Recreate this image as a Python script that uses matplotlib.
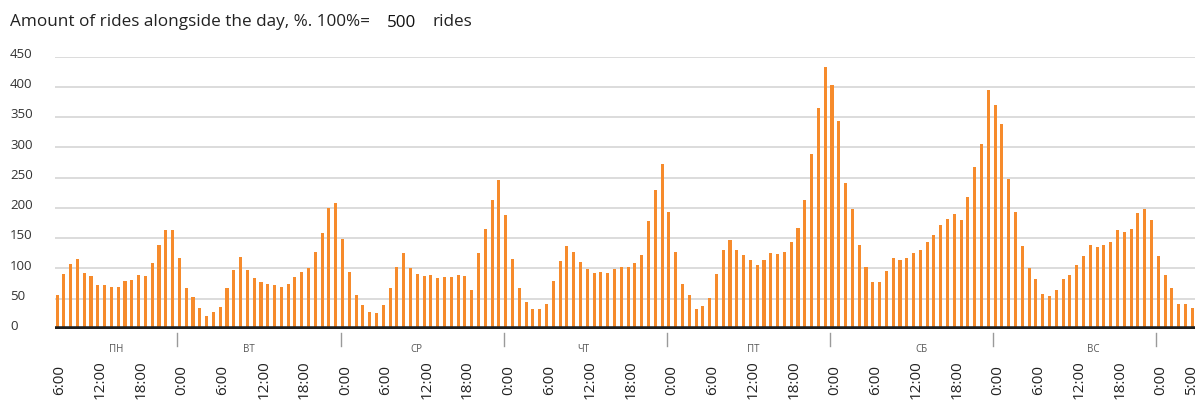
import matplotlib
matplotlib.use("Agg")
import matplotlib.pyplot as plt
from matplotlib.transforms import blended_transform_factory

# ---- data ----
title_text = "Amount of rides alongside the day, %. 100%="
base_value = "500"
unit_text = "rides"
day_labels = ["ПН", "ВТ", "СР", "ЧТ", "ПТ", "СБ", "ВС"]
start_hour = 6

mon = [56, 91, 107, 116, 93, 88, 72, 73, 70, 70, 79, 81, 89, 87, 109, 138, 164, 164]
tue = [117, 67, 53, 34, 21, 28, 37, 67, 98, 119, 98, 84, 77, 74, 73, 70, 75, 86, 95, 100, 127, 158, 200, 209]
wed = [149, 95, 57, 40, 28, 27, 40, 68, 102, 125, 101, 91, 87, 90, 84, 86, 86, 90, 88, 65, 125, 166, 214, 247]
thu = [188, 116, 68, 44, 33, 33, 41, 79, 112, 137, 128, 110, 99, 92, 94, 92, 99, 103, 103, 109, 122, 179, 229, 273]
fri = [194, 127, 74, 56, 33, 38, 52, 91, 131, 147, 131, 122, 114, 106, 114, 126, 124, 127, 143, 167, 214, 289, 366, 433]
sat = [404, 343, 241, 199, 139, 103, 78, 78, 96, 118, 114, 118, 125, 130, 144, 155, 172, 182, 190, 180, 218, 267, 306, 395]
sun = [371, 339, 248, 193, 137, 100, 82, 58, 54, 64, 83, 89, 105, 120, 139, 135, 139, 143, 164, 161, 166, 192, 198, 180]
mon_next = [120, 89, 68, 42, 42, 35]

y_ticks = [0, 50, 100, 150, 200, 250, 300, 350, 400, 450]

values = mon + tue + wed + thu + fri + sat + sun + mon_next
n = len(values)
hours = [(start_hour + i) % 24 for i in range(n)]
xs = list(range(n))

# ---- figure ----
W, H = 1200, 411
fig = plt.figure(figsize=(W / 100, H / 100), dpi=100)
plt.rcParams["font.family"] = ["Open Sans", "DejaVu Sans"]

def px(x0, x1, y0, y1):
    return [x0 / W, 1 - y1 / H, (x1 - x0) / W, (y1 - y0) / H]

ax = fig.add_axes(px(55, 1195, 56.7, 329))
ax.set_xlim(-0.3, n - 0.6)
ax.set_ylim(0, 450)

for yv in y_ticks[1:]:
    ax.axhline(yv, color="#dcdcdc", lw=1.4, zorder=0)

ax.bar(xs, values, width=0.45, color="#f68b2c", zorder=2)
ax.axhline(0, color="#1e1e1e", lw=4, zorder=3)

for s in ax.spines.values():
    s.set_visible(False)
ax.set_xticks([])
ax.set_yticks([])

# y tick labels, left aligned at figure x=10px
tr_y = blended_transform_factory(fig.transFigure, ax.transData)
for yv in y_ticks:
    ax.text(10 / W, yv + 4, str(yv), transform=tr_y, ha="left", va="center",
            fontsize=9.5, color="#333333", clip_on=False)

# day separators and labels
tr_x = blended_transform_factory(ax.transData, fig.transFigure)
day_starts = [i for i in range(n) if hours[i] == 0]
for d in day_starts:
    ax.plot([d - 0.3, d - 0.3], [1 - 333 / H, 1 - 346 / H], transform=tr_x,
            color="#9a9a9a", lw=1, clip_on=False)

day_label_pos = [8.7, 28.2, 52.9, 77.4, 102.4, 127.2, 152.5]
for lab, xp in zip(day_labels, day_label_pos):
    ax.text(xp, 1 - 349 / H, lab, transform=tr_x, ha="center", va="center",
            fontsize=7, color="#555555", clip_on=False)

# hour labels
for i, h in enumerate(hours):
    if h % 6 == 0 or i == n - 1:
        xoff = 0.4 if i < n - 1 else -0.1
        ax.text(i + xoff, 1 - 380 / H, f"{h}:00", transform=tr_x, rotation=90,
                ha="center", va="center", fontsize=11, color="#222222",
                clip_on=False)

# title
fig.text(10 / W, 1 - 22 / H, title_text, ha="left", va="center",
         fontsize=12.3, color="#222222")
fig.text(387 / W, 1 - 23 / H, base_value, ha="left", va="center",
         fontsize=12.3, color="#111111")
fig.text(433 / W, 1 - 22 / H, unit_text, ha="left", va="center",
         fontsize=12.3, color="#222222")

fig.savefig("out.png", dpi=100, facecolor="white")
